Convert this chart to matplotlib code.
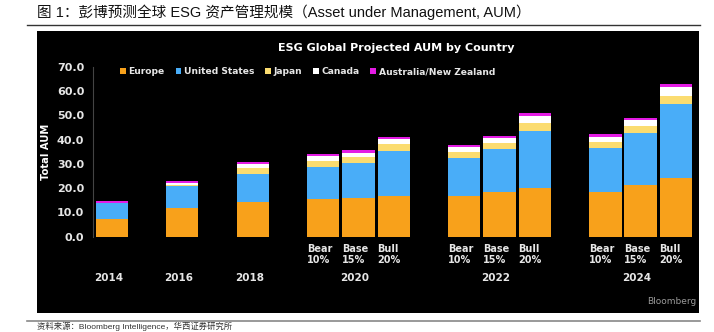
import matplotlib.pyplot as plt
from matplotlib.patches import Rectangle, Patch
import numpy as np

plt.rcParams['font.family'] = ['DejaVu Sans', 'Noto Sans CJK SC']

# bar slots (Bear/Base/Bull scenarios for 2020-2024)
positions = np.array([0, 2, 4, 6, 7, 8, 10, 11, 12, 14, 15, 16])
scenario_labels = ['', '', '', 'Bear\n10%', 'Base\n15%', 'Bull\n20%',
                   'Bear\n10%', 'Base\n15%', 'Bull\n20%',
                   'Bear\n10%', 'Base\n15%', 'Bull\n20%']
years = ['2014', '2016', '2018', '2020', '2022', '2024']
year_pos = [0, 2, 4, 7, 11, 15]

# AUM in trillion USD
europe = [7.1, 12.0, 14.1, 15.4, 16.0, 16.7, 16.9, 18.3, 20.2, 18.5, 21.2, 24.0]
us = [6.9, 8.7, 11.9, 13.4, 14.5, 18.4, 15.6, 17.7, 23.4, 17.9, 21.4, 30.5]
japan = [0.0, 0.5, 2.2, 2.5, 2.2, 2.9, 2.5, 2.6, 3.3, 2.7, 3.0, 3.5]
canada = [0.0, 1.0, 1.7, 1.9, 1.9, 2.1, 1.8, 1.9, 2.8, 2.1, 2.4, 3.5]
anz = [0.5, 0.6, 0.8, 0.8, 1.0, 1.1, 0.9, 1.1, 1.2, 1.1, 1.0, 1.2]

series = [('Europe', europe, '#F8A11B'),
          ('United States', us, '#49ADF8'),
          ('Japan', japan, '#FBDC70'),
          ('Canada', canada, '#FFFFFF'),
          ('Australia/New Zealand', anz, '#E41BE4')]

fig = plt.figure(figsize=(7.14, 3.32), dpi=100)
W, H = 714, 332

# report header
fig.text(37 / W, 1 - 12.5 / H, '图 1：彭博预测全球 ESG 资产管理规模（Asset under Management, AUM）',
         fontsize=10.5, va='center', ha='left', color='#111111',
         family=['Liberation Sans', 'Noto Sans CJK SC'])
fig.add_artist(plt.Line2D([27 / W, 700 / W], [1 - 25 / H, 1 - 25 / H], color='#333333', lw=1))

# black chart panel
panel = Rectangle((37 / W, 1 - 313 / H), (699 - 37) / W, (313 - 31) / H,
                  transform=fig.transFigure, facecolor='black', edgecolor='none', zorder=0)
fig.add_artist(panel)

# bottom rule and source line
fig.add_artist(plt.Line2D([27 / W, 700 / W], [1 - 321 / H, 1 - 321 / H], color='#888888', lw=1.2))
fig.text(37 / W, 1 - 331 / H, '资料来源：Bloomberg Intelligence，华西证券研究所',
         fontsize=6, va='bottom', ha='left', color='#333333',
         family=['Liberation Sans', 'Noto Sans CJK SC'])

ax = fig.add_axes([92.7 / W, 1 - 236.7 / H, (698 - 92.7) / W, 170 / H])
ax.set_facecolor('black')

bottom = np.zeros(len(positions))
for name, vals, col in series:
    ax.bar(positions, vals, bottom=bottom, width=0.92, color=col, label=name, zorder=2)
    bottom += np.array(vals)

ax.set_xlim(-0.54, 16.63)
ax.set_ylim(0, 70)
ax.set_yticks(np.arange(0, 71, 10))
ax.set_yticklabels(['%.1f' % v for v in np.arange(0, 71, 10)])
ax.tick_params(axis='y', length=0, pad=6, labelsize=8, labelcolor='#E6E6E6')
for lab in ax.get_yticklabels():
    lab.set_fontweight('bold')
ax.set_xticks([])
for s in ['top', 'right', 'bottom']:
    ax.spines[s].set_visible(False)
ax.spines['left'].set_color('#444444')
ax.spines['left'].set_linewidth(0.8)

ax.set_ylabel('Total AUM', color='white', fontsize=7.2, fontweight='bold', labelpad=4)

xt = ax.get_xaxis_transform()
for p, lab in zip(positions, scenario_labels):
    if lab:
        ax.text(p - 0.46, -0.045, lab, transform=xt, ha='left', va='top',
                color='#E6E6E6', fontsize=7, fontweight='bold', linespacing=1.05)
for p, y in zip(year_pos, years):
    ax.text(p - 0.1, -0.245, y, transform=xt, ha='center', va='center',
            color='#E6E6E6', fontsize=7.5, fontweight='bold')

fig.text(396.5 / W, 1 - 48 / H, 'ESG Global Projected AUM by Country', color='white',
         fontsize=8, fontweight='bold', ha='center', va='center')

handles = [Patch(facecolor=c, edgecolor='none') for _, _, c in series]
leg = fig.legend(handles, [n for n, _, _ in series], loc='center left',
                 bbox_to_anchor=(120 / W, 1 - 72 / H), ncol=5, frameon=False,
                 handlelength=0.6, handleheight=0.6, handletextpad=0.3,
                 columnspacing=1.2, borderpad=0, borderaxespad=0,
                 prop={'size': 6.6, 'weight': 'bold'})
for t in leg.get_texts():
    t.set_color('#E6E6E6')

fig.text(647 / W, 1 - 302 / H, 'Bloomberg', color='#9A9A9A',
         fontsize=6.5, ha='left', va='center')

fig.savefig('out.png', dpi=100)
